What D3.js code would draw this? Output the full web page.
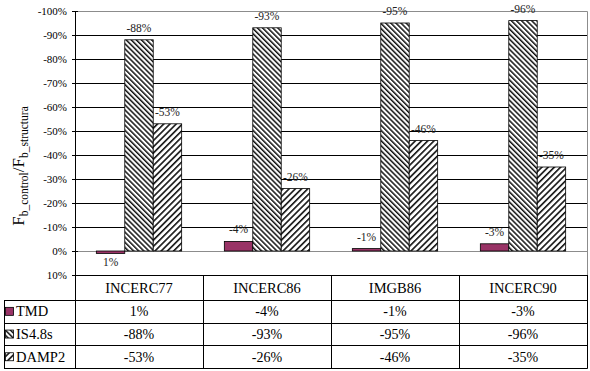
<!doctype html>
<meta charset="utf-8">
<title>Fb control / Fb structura</title>
<style>
body { margin: 0; background: #fff; }
svg { font-family: "Liberation Serif", "DejaVu Serif", serif; }
.grid line { stroke: #000; stroke-width: 1; }
.tbl line { stroke: #000; stroke-width: 1; }
</style>
<script src="https://d3js.org/d3.v7.min.js"></script>
<body>
<script>
// data
var categories = ["INCERC77", "INCERC86", "IMGB86", "INCERC90"];
var seriesNames = ["TMD", "IS4.8s", "DAMP2"];
var tmd = [1, -4, -1, -3];
var is48 = [-88, -93, -95, -96];
var damp2 = [-53, -26, -46, -35];
var yTicks = [-100, -90, -80, -70, -60, -50, -40, -30, -20, -10, 0, 10];

var seriesValues = [tmd, is48, damp2];
var width = 590, height = 371;
var plotL = 75, plotR = 587, plotT = 11, plotB = 275;
var rowH = 22.7, headH = 25, tblLeft = 4;

var svg = d3.select("body").append("svg")
    .attr("width", width)
    .attr("height", height);

var defs = svg.append("defs");
// dense downward diagonal
var p1 = defs.append("pattern").attr("id", "hatchDown")
    .attr("patternUnits", "userSpaceOnUse")
    .attr("width", 3.6).attr("height", 3.6)
    .attr("patternTransform", "rotate(-45)");
p1.append("rect").attr("width", 3.6).attr("height", 3.6).attr("fill", "#fff");
p1.append("rect").attr("width", 1.5).attr("height", 3.6).attr("fill", "#111");
// wide upward diagonal
var p2 = defs.append("pattern").attr("id", "hatchUp")
    .attr("patternUnits", "userSpaceOnUse")
    .attr("width", 4.4).attr("height", 4.4)
    .attr("patternTransform", "rotate(45)");
p2.append("rect").attr("width", 4.4).attr("height", 4.4).attr("fill", "#fff");
p2.append("rect").attr("width", 1.6).attr("height", 4.4).attr("fill", "#111");

var fills = d3.scaleOrdinal()
  .domain(seriesNames)
  .range(["#993366", "url(#hatchDown)", "url(#hatchUp)"]);

var y = d3.scaleLinear().domain([-100, 10]).range([plotT, plotB]);
var x0 = d3.scaleBand().domain(categories).range([plotL, plotR]);
var x1 = d3.scaleBand().domain(seriesNames).range([0, x0.bandwidth()]).paddingOuter(0.75);

// gridlines
svg.append("g").attr("class", "grid")
  .selectAll("line")
  .data(yTicks.filter(function(d) { return d > -100 && d < 0; }))
  .enter().append("line")
    .attr("x1", plotL).attr("x2", plotR)
    .attr("y1", function(d) { return Math.round(y(d)) + 0.5; })
    .attr("y2", function(d) { return Math.round(y(d)) + 0.5; });

// zero line and outer frame
svg.append("line")
    .attr("x1", plotL).attr("x2", plotR)
    .attr("y1", Math.round(y(0)) + 0.5).attr("y2", Math.round(y(0)) + 0.5)
    .attr("stroke", "#8c8c8c");
svg.append("path")
    .attr("d", "M" + plotL + "," + (plotT + 0.5) + "H" + (plotR + 0.5) + "V" + plotB)
    .attr("fill", "none").attr("stroke", "#8c8c8c");

// bars
var groups = svg.append("g").selectAll("g")
  .data(categories)
  .enter().append("g")
    .attr("transform", function(d) { return "translate(" + x0(d) + ",0)"; });

groups.selectAll("rect")
  .data(function(c, i) {
    return seriesNames.map(function(s, j) { return {s: s, v: seriesValues[j][i]}; });
  })
  .enter().append("rect")
    .attr("x", function(d) { return x1(d.s); })
    .attr("width", x1.bandwidth())
    .attr("y", function(d) { return Math.min(y(d.v), y(0)); })
    .attr("height", function(d) { return Math.abs(y(d.v) - y(0)); })
    .attr("fill", function(d) { return fills(d.s); })
    .attr("stroke", "#000")
    .attr("stroke-width", 0.8);

groups.selectAll("text")
  .data(function(c, i) {
    return seriesNames.map(function(s, j) { return {s: s, v: seriesValues[j][i]}; });
  })
  .enter().append("text")
    .attr("x", function(d) { return x1(d.s) + x1.bandwidth() / 2; })
    .attr("y", function(d) { return d.v < 0 ? y(d.v) - 8 : y(d.v) + 13; })
    .attr("text-anchor", "middle")
    .attr("font-size", 11.5)
    .attr("fill", "#222")
    .text(function(d) { return d.v + "%"; });

// y axis
var yAxis = d3.axisLeft(y)
  .tickValues(yTicks)
  .tickSize(3)
  .tickFormat(function(d) { return d + "%"; });
var ax = svg.append("g").attr("transform", "translate(" + plotL + ",0)").call(yAxis);
ax.select(".domain").remove();
ax.selectAll("text").attr("font-family", "Liberation Serif").attr("font-size", 11).attr("x", -8).attr("fill", "#000");
ax.selectAll(".tick line").attr("x1", 3).attr("x2", -3).attr("stroke", "#000");
svg.append("line")
    .attr("x1", plotL + 0.5).attr("x2", plotL + 0.5)
    .attr("y1", plotT).attr("y2", plotB + headH + rowH * 3)
    .attr("stroke", "#000");

// y title
var yt = svg.append("text")
    .attr("transform", "translate(24,166) rotate(-90)")
    .attr("text-anchor", "middle")
    .attr("font-size", 17);
yt.append("tspan").text("F");
yt.append("tspan").attr("font-size", 11.5).attr("dy", 4).text("b_control");
yt.append("tspan").attr("dy", -4).text("/F");
yt.append("tspan").attr("font-size", 11.5).attr("dy", 4).text("b_structura");

// data table
var tbl = svg.append("g").attr("class", "tbl");
var rowTop = function(i) { return plotB + headH + rowH * i; };

tbl.append("line").attr("x1", plotL).attr("x2", plotR + 0.5)
    .attr("y1", plotB + 0.5).attr("y2", plotB + 0.5);
[0, 1, 2, 3].forEach(function(i) {
  tbl.append("line").attr("x1", tblLeft).attr("x2", plotR + 0.5)
      .attr("y1", Math.round(rowTop(i)) + 0.5).attr("y2", Math.round(rowTop(i)) + 0.5);
});
tbl.append("line").attr("x1", tblLeft + 0.5).attr("x2", tblLeft + 0.5)
    .attr("y1", rowTop(0)).attr("y2", rowTop(3));
categories.forEach(function(c) {
  tbl.append("line").attr("x1", x0(c) + x0.bandwidth() + 0.5).attr("x2", x0(c) + x0.bandwidth() + 0.5)
      .attr("y1", plotB).attr("y2", rowTop(3) + 0.5);
});

tbl.selectAll("text.cat")
  .data(categories)
  .enter().append("text")
    .attr("class", "cat")
    .attr("x", function(d) { return x0(d) + x0.bandwidth() / 2; })
    .attr("y", plotB + headH / 2 + 5)
    .attr("text-anchor", "middle")
    .attr("font-size", 14.5)
    .text(function(d) { return d; });

seriesNames.forEach(function(s, j) {
  var cy = rowTop(j) + rowH / 2;
  tbl.append("rect")
      .attr("x", tblLeft + 1.5).attr("y", cy - 4)
      .attr("width", 8).attr("height", 8)
      .attr("fill", fills(s)).attr("stroke", "#000").attr("stroke-width", 0.8);
  tbl.append("text")
      .attr("x", tblLeft + 12).attr("y", cy + 5)
      .attr("font-size", 14.5)
      .text(s);
  tbl.selectAll("text.v" + j)
    .data(seriesValues[j])
    .enter().append("text")
      .attr("class", "v" + j)
      .attr("x", function(d, i) { return x0(categories[i]) + x0.bandwidth() / 2; })
      .attr("y", cy + 5)
      .attr("text-anchor", "middle")
      .attr("font-size", 14)
      .text(function(d) { return d + "%"; });
});
</script>
